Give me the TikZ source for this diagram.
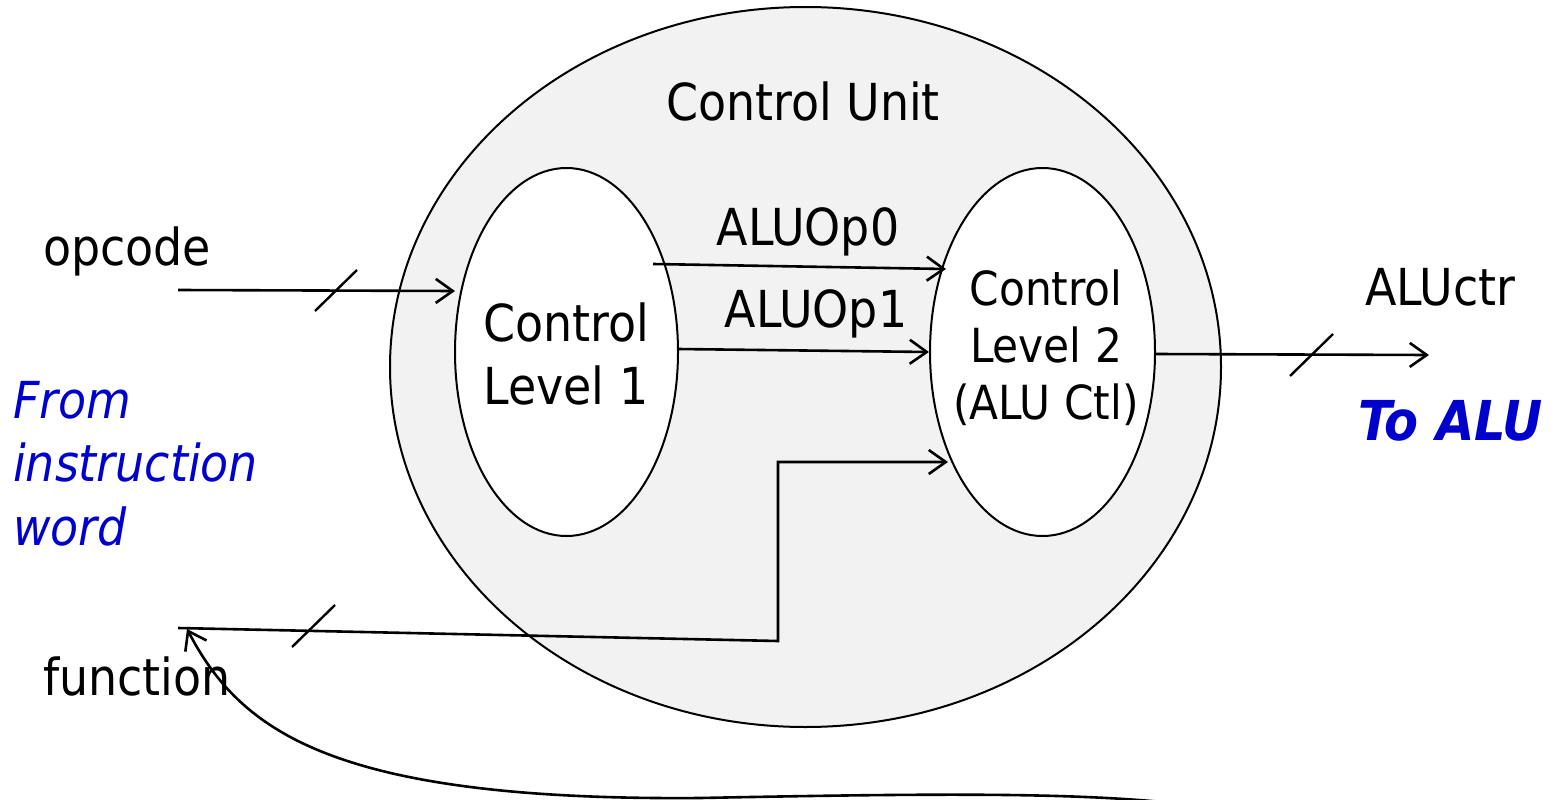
\documentclass[tikz,border=0pt]{standalone}
\usepackage{fontspec}
\setmainfont{DejaVu Sans Condensed}
\usetikzlibrary{arrows.meta,shapes.geometric}
\definecolor{unitgray}{HTML}{F2F2F2}
\definecolor{noteblue}{HTML}{0000CC}
\begin{document}
\begin{tikzpicture}[x=1pt,y=-1pt,
  blob/.style={ellipse, draw, line width=2pt, inner sep=0pt},
  wire/.style={line width=2.6pt,
    -{Straight Barb[length=17pt,width=24pt]}},
  busmark/.style={line width=2.4pt},
  lbl/.style={inner sep=0pt, font=\fontsize{51}{63}\selectfont},
  lbltwo/.style={inner sep=0pt, align=center, font=\fontsize{47}{57}\selectfont},
  note/.style={inner sep=0pt, text=noteblue, align=left,
    font=\fontsize{51}{63.5}\selectfont\itshape}]
\useasboundingbox (0,0) rectangle (1563,800);

% control unit and its two decoding levels
\node[blob, fill=unitgray, minimum width=831pt, minimum height=720pt] (cu) at (805.5,367) {};
\node[blob, fill=white, minimum width=223pt, minimum height=368pt] (lv1) at (566.5,352) {};
\node[blob, fill=white, minimum width=225pt, minimum height=368pt] (lv2) at (1042.5,352) {};

\node[lbl, anchor=base] (cut) at (803,120) {Control Unit};
\node[lbl, align=center] (lv1t) at (566,354) {Control\\Level 1};
\node[lbltwo] (lv2t) at (1046,348) {Control\\Level 2\\(ALU Ctl)};

% outside labels
\node[lbl, anchor=base west] (opc) at (43,265) {opcode};
\node[lbl, anchor=base west] (fun) at (43,695) {function};
\node[lbl, anchor=base west] (aluctr) at (1365,305) {ALUctr};
\node[lbl, anchor=base] (op0) at (808,245) {ALUOp0};
\node[lbl, anchor=base] (op1) at (816,327) {ALUOp1};
\node[note, anchor=base west] (from) at (13,545) {From\\instruction\\word};
\node[inner sep=0pt, anchor=base west, text=noteblue,
  font=\fontsize{55}{63}\selectfont\bfseries\itshape] (toalu) at (1358,440) {To ALU};

% wire end points
\coordinate (opin) at (178,290);
\coordinate (opout) at (455,291);
\coordinate (a0s) at (653,264);
\coordinate (a0e) at (946,269);
\coordinate (a1s) at (678,349);
\coordinate (a1e) at (929,352);
\coordinate (cs) at (1155,354);
\coordinate (ce) at (1429,355);
\coordinate (fs) at (178,628);
\coordinate (fc1) at (778,641);
\coordinate (fc2) at (778,462);
\coordinate (fe) at (948,462);
\coordinate (feed) at (1205,807);
\coordinate (ftip) at (187,629);

\draw[wire] (opin) -- (opout);
\draw[wire] (a0s) -- (a0e);
\draw[wire] (a1s) -- (a1e);
\draw[wire] (cs) -- (ce);
\draw[wire] (fs) -- (fc1) -- (fc2) -- (fe);
\draw[wire] (feed) .. controls (1100,792) and (950,793) .. (700,798)
  .. controls (330,801) and (240,730) .. (ftip);

% bus width marks
\draw[busmark] (315,311) -- (357,270);
\draw[busmark] (292,647) -- (335,605);
\draw[busmark] (1290,376) -- (1333,334);
\end{tikzpicture}
\end{document}
